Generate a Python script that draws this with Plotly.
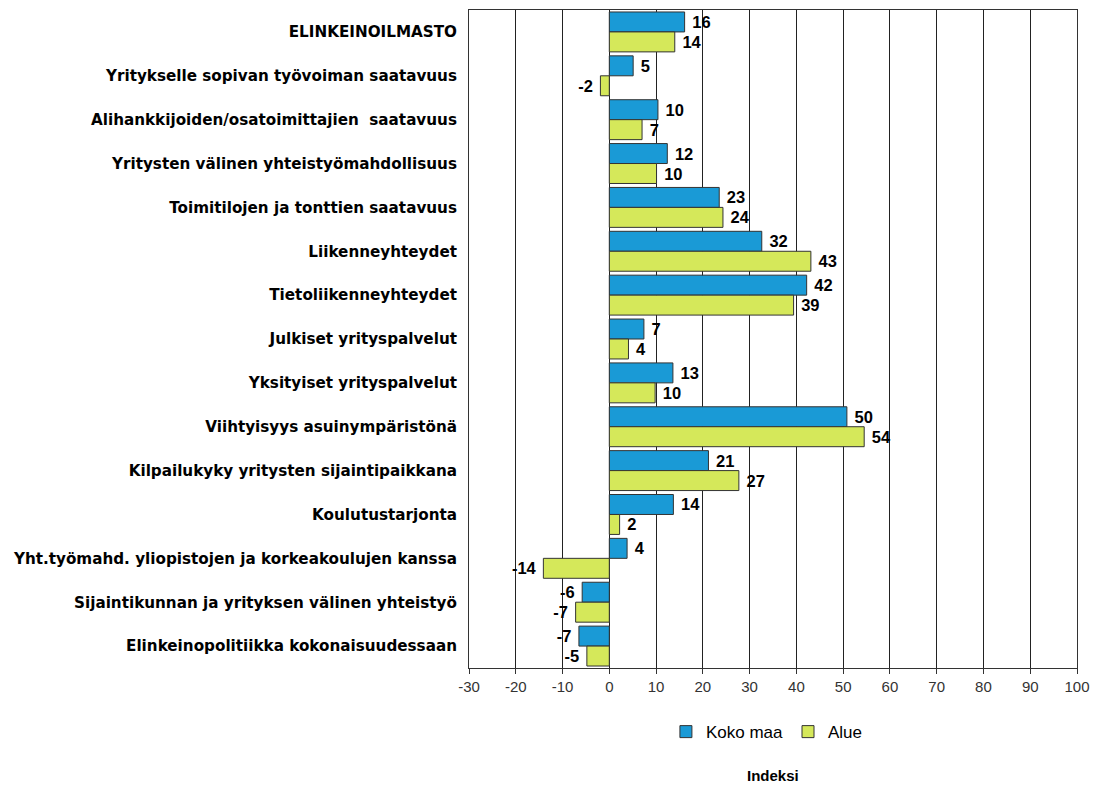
import plotly.graph_objects as go

categories = [
    "ELINKEINOILMASTO",
    "Yritykselle sopivan työvoiman saatavuus",
    "Alihankkijoiden/osatoimittajien  saatavuus",
    "Yritysten välinen yhteistyömahdollisuus",
    "Toimitilojen ja tonttien saatavuus",
    "Liikenneyhteydet",
    "Tietoliikenneyhteydet",
    "Julkiset yrityspalvelut",
    "Yksityiset yrityspalvelut",
    "Viihtyisyys asuinympäristönä",
    "Kilpailukyky yritysten sijaintipaikkana",
    "Koulutustarjonta",
    "Yht.työmahd. yliopistojen ja korkeakoulujen kanssa",
    "Sijaintikunnan ja yrityksen välinen yhteistyö",
    "Elinkeinopolitiikka kokonaisuudessaan",
]
koko_maa = [16.1, 5.1, 10.4, 12.4, 23.5, 32.6, 42.2, 7.4, 13.6, 50.8, 21.2, 13.7, 3.8, -5.8, -6.5]
alue = [14.0, -1.9, 7.0, 10.1, 24.3, 43.1, 39.4, 4.1, 9.8, 54.5, 27.7, 2.2, -14.1, -7.2, -4.8]
koko_maa_labels = ["16", "5", "10", "12", "23", "32", "42", "7", "13", "50", "21", "14", "4", "-6", "-7"]
alue_labels = ["14", "-2", "7", "10", "24", "43", "39", "4", "10", "54", "27", "2", "-14", "-7", "-5"]
tick_vals = list(range(-30, 101, 10))


def bar_text(labels, values):
    out = []
    for t, v in zip(labels, values):
        if v >= 0:
            out.append("\u00a0<b>" + t + "</b>")
        else:
            out.append("<b>" + t + "</b>\u00a0")
    return out


label_font = dict(family="Liberation Sans, Arial", size=16.5, color="black")

fig = go.Figure()
fig.add_trace(go.Bar(
    y=categories, x=koko_maa, name="Koko maa", orientation="h",
    marker=dict(color="#1A9AD6", line=dict(color="#333333", width=1)),
    text=bar_text(koko_maa_labels, koko_maa), textposition="outside",
    textfont=label_font, cliponaxis=False,
))
fig.add_trace(go.Bar(
    y=categories, x=alue, name="Alue", orientation="h",
    marker=dict(color="#D5E85A", line=dict(color="#333333", width=1)),
    text=bar_text(alue_labels, alue), textposition="outside",
    textfont=label_font, cliponaxis=False,
))

fig.update_layout(
    width=1100, height=787,
    margin=dict(l=469, r=23, t=10, b=119, autoexpand=False),
    barmode="group", bargap=0.09, bargroupgap=0,
    plot_bgcolor="white", paper_bgcolor="white",
    font=dict(family="Liberation Sans, Arial", color="black"),
    legend=dict(
        orientation="h", x=0.49, xanchor="center", y=-0.07, yanchor="top",
        font=dict(family="Liberation Sans, Arial", size=17, color="black"),
        traceorder="normal",
    ),
    uniformtext=dict(mode=False),
)
fig.update_xaxes(
    range=[-30, 100], tickvals=tick_vals, ticktext=[str(v) for v in tick_vals],
    showgrid=True, gridcolor="#222222", gridwidth=1,
    zeroline=False, showline=True, linecolor="#333333", linewidth=1,
    ticks="outside", ticklen=5, tickcolor="#333333",
    tickfont=dict(family="Liberation Sans, Arial", size=15, color="#333333"),
    mirror=True, automargin=False,
)
fig.update_yaxes(
    autorange="reversed", showline=True, linecolor="#333333", linewidth=1, mirror=True,
    ticks="", showgrid=False, automargin=False,
    tickfont=dict(family="DejaVu Sans, Liberation Sans", size=15.2, color="black"),
    ticklabelstandoff=8,
    tickvals=categories, ticktext=[f"<b>{c}</b>" for c in categories],
)
fig.add_annotation(
    text="<b>Indeksi</b>", xref="paper", yref="paper", x=0.5, y=-0.163,
    xanchor="center", yanchor="middle", showarrow=False,
    font=dict(family="Liberation Sans, Arial", size=15, color="black"),
)

fig.write_html("out.html", config={"displayModeBar": False},
               post_script="document.body.style.margin='0';")
